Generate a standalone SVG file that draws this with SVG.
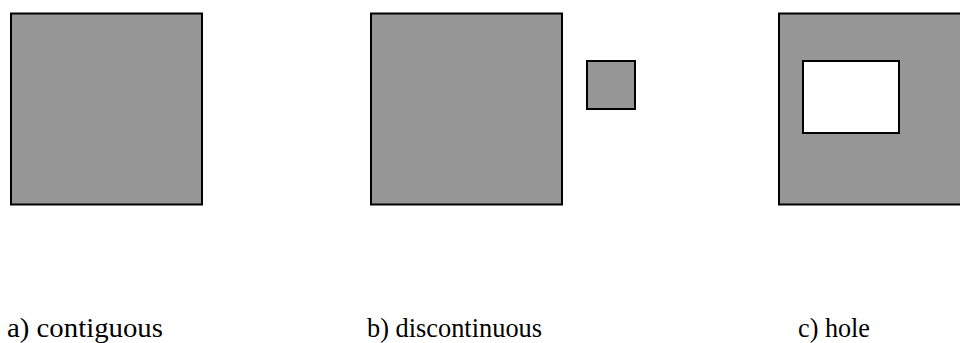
<svg xmlns="http://www.w3.org/2000/svg" width="960" height="343" viewBox="0 0 960 343">
<style>
.sh{fill:#969696;stroke:#000;stroke-width:2}
.ho{fill:#fff;stroke:#000;stroke-width:2}
.lb{font-family:"Liberation Serif","Times New Roman",serif;font-size:27px;fill:#000}
</style>
<rect width="960" height="343" fill="#fff"/>
<g id="a">
<rect class="sh" x="11" y="13.5" width="191" height="191"/>
<text class="lb" x="7" y="337" textLength="156" lengthAdjust="spacingAndGlyphs">a) contiguous</text>
</g>
<g id="b">
<rect class="sh" x="371" y="13.5" width="191" height="191"/>
<rect class="sh" x="587" y="61" width="48" height="48"/>
<text class="lb" x="367" y="337" textLength="175" lengthAdjust="spacingAndGlyphs">b) discontinuous</text>
</g>
<g id="c">
<rect class="sh" x="779" y="13.5" width="191" height="191"/>
<rect class="ho" x="803" y="61" width="96" height="72"/>
<text class="lb" x="798" y="337" textLength="72" lengthAdjust="spacingAndGlyphs">c) hole</text>
</g>
</svg>
